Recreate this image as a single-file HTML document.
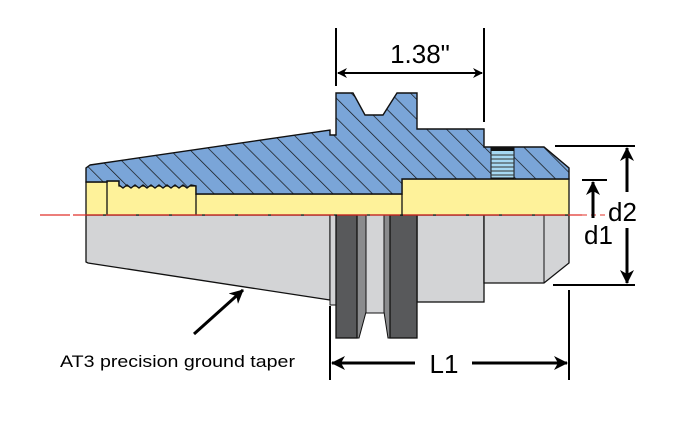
<!DOCTYPE html>
<html><head><meta charset="utf-8"><style>
html,body{margin:0;padding:0;background:#fff;}
svg{display:block;}
text{font-family:"Liberation Sans",sans-serif;}
</style></head><body>
<svg width="685" height="429" viewBox="0 0 685 429" xmlns="http://www.w3.org/2000/svg">
<defs>
<pattern id="h" patternUnits="userSpaceOnUse" width="14" height="14" patternTransform="rotate(-45)">
<rect width="14" height="14" fill="#7aa5d8"/>
<line x1="0" y1="0" x2="0" y2="14" stroke="#111" stroke-width="1.4"/>
</pattern>
<marker id="a" markerWidth="10" markerHeight="10" refX="9" refY="5" orient="auto" markerUnits="userSpaceOnUse">
<path d="M0,0 L10,5 L0,10 L3,5 Z" fill="#000"/>
</marker>
<marker id="b" markerWidth="14" markerHeight="14" refX="13" refY="7" orient="auto" markerUnits="userSpaceOnUse">
<path d="M0,0 L14,7 L0,14 L4,7 Z" fill="#000"/>
</marker>
</defs>

<path d="M86,215 L330,215 L330,300 L88,263 L86,262 Z" fill="#d3d4d6" stroke="#111" stroke-width="1.3"/>
<rect x="330" y="215" width="7" height="90" fill="#d3d4d6" stroke="#111" stroke-width="1"/>
<rect x="417" y="215" width="67" height="87" fill="#d3d4d6" stroke="#111" stroke-width="1.3"/>
<path d="M484,215 L569,215 L569,263 L544,283 L484,283 Z" fill="#d3d4d6" stroke="#111" stroke-width="1.3"/>
<line x1="544" y1="215" x2="544" y2="283" stroke="#111" stroke-width="1"/>
<rect x="357" y="215" width="33" height="98" fill="#d3d4d6" stroke="#111" stroke-width="1"/>
<path d="M357,215 L366,215 L366,312 L359,338 L357,338 Z" fill="#8a8b8d" stroke="#111" stroke-width="1"/>
<path d="M384,215 L390,215 L390,338 L388,338 L384,312 Z" fill="#8a8b8d" stroke="#111" stroke-width="1"/>
<rect x="336" y="215" width="21" height="123" fill="#58595b" stroke="#111" stroke-width="1.3"/>
<rect x="390" y="215" width="27" height="123" fill="#58595b" stroke="#111" stroke-width="1.3"/>

<path d="M86,182 L107,182 L107,181 L119,181 L119,186 L196,186 L196,194 L402,194 L402,179 L569,179 L569,215 L86,215 Z" fill="#fef29a" stroke="#111" stroke-width="1.3"/>
<line x1="107" y1="182" x2="107" y2="215" stroke="#111" stroke-width="1.3"/>
<line x1="196" y1="194" x2="196" y2="215" stroke="#111" stroke-width="1.3"/>
<line x1="402" y1="194" x2="402" y2="215" stroke="#111" stroke-width="1.3"/>

<path d="M90,165 L330,130 L330,135 L336,135 L336,93 L353,93 L365,115 L383,115 L397,93 L417,93 L417,129 L484,129 L484,147 L544,147 L569,168 L569,179 L402,179 L402,194 L196,194 L196,186 L191,185 L187,188 L183,185 L179,188 L175,185 L171,188 L167,185 L163,188 L159,185 L155,188 L151,185 L147,188 L143,185 L139,188 L135,185 L131,188 L127,185 L123,188 L119,185 L119,181 L107,181 L107,182 L86,182 L86,168 Z" fill="url(#h)" stroke="#111" stroke-width="1.4"/>
<rect x="491" y="147" width="23" height="31" fill="#a6d8f2" stroke="#111" stroke-width="1"/>
<rect x="491" y="147" width="23" height="4" fill="#111"/>
<g stroke="#333" stroke-width="1"><line x1="491" y1="155" x2="514" y2="155"/><line x1="491" y1="159" x2="514" y2="159"/><line x1="491" y1="163" x2="514" y2="163"/><line x1="491" y1="167" x2="514" y2="167"/><line x1="491" y1="171" x2="514" y2="171"/><line x1="491" y1="175" x2="514" y2="175"/></g>

<line x1="40" y1="215" x2="582" y2="215" stroke="#e0302a" stroke-width="1.2" stroke-dasharray="30 3"/>
<line x1="582" y1="215" x2="606" y2="215" stroke="#e0302a" stroke-width="1" stroke-dasharray="5 4"/>

<g stroke="#000" stroke-width="2">
<line x1="336" y1="28" x2="336" y2="86"/>
<line x1="484" y1="28" x2="484" y2="122"/>
<line x1="350" y1="73" x2="482" y2="73" marker-end="url(#a)"/>
<line x1="470" y1="73" x2="338" y2="73" marker-end="url(#a)"/>
</g>
<text x="420" y="63" font-size="26" text-anchor="middle">1.38"</text>

<g stroke="#000" stroke-width="2">
<line x1="555" y1="146" x2="635" y2="146"/>
<line x1="553" y1="285" x2="635" y2="285"/>
<line x1="627" y1="192" x2="627" y2="148" stroke-width="3" marker-end="url(#b)"/>
<line x1="627" y1="228" x2="627" y2="283" stroke-width="3" marker-end="url(#b)"/>
<line x1="582" y1="180" x2="607" y2="180"/>
<line x1="593" y1="218" x2="593" y2="182" stroke-width="3" marker-end="url(#b)"/>
</g>
<text x="608" y="221" font-size="26">d2</text>
<text x="584" y="244" font-size="26">d1</text>

<g stroke="#000" stroke-width="2">
<line x1="330" y1="306" x2="330" y2="380"/>
<line x1="569" y1="290" x2="569" y2="380"/>
<line x1="415" y1="363" x2="332" y2="363" stroke-width="3" marker-end="url(#b)"/>
<line x1="472" y1="363" x2="567" y2="363" stroke-width="3" marker-end="url(#b)"/>
</g>
<text x="444" y="373" font-size="26" text-anchor="middle">L1</text>

<line x1="194" y1="334" x2="243" y2="290" stroke="#000" stroke-width="3" marker-end="url(#b)"/>
<text x="60" y="367" font-size="17" textLength="235" lengthAdjust="spacingAndGlyphs">AT3 precision ground taper</text>
</svg>
</body></html>
